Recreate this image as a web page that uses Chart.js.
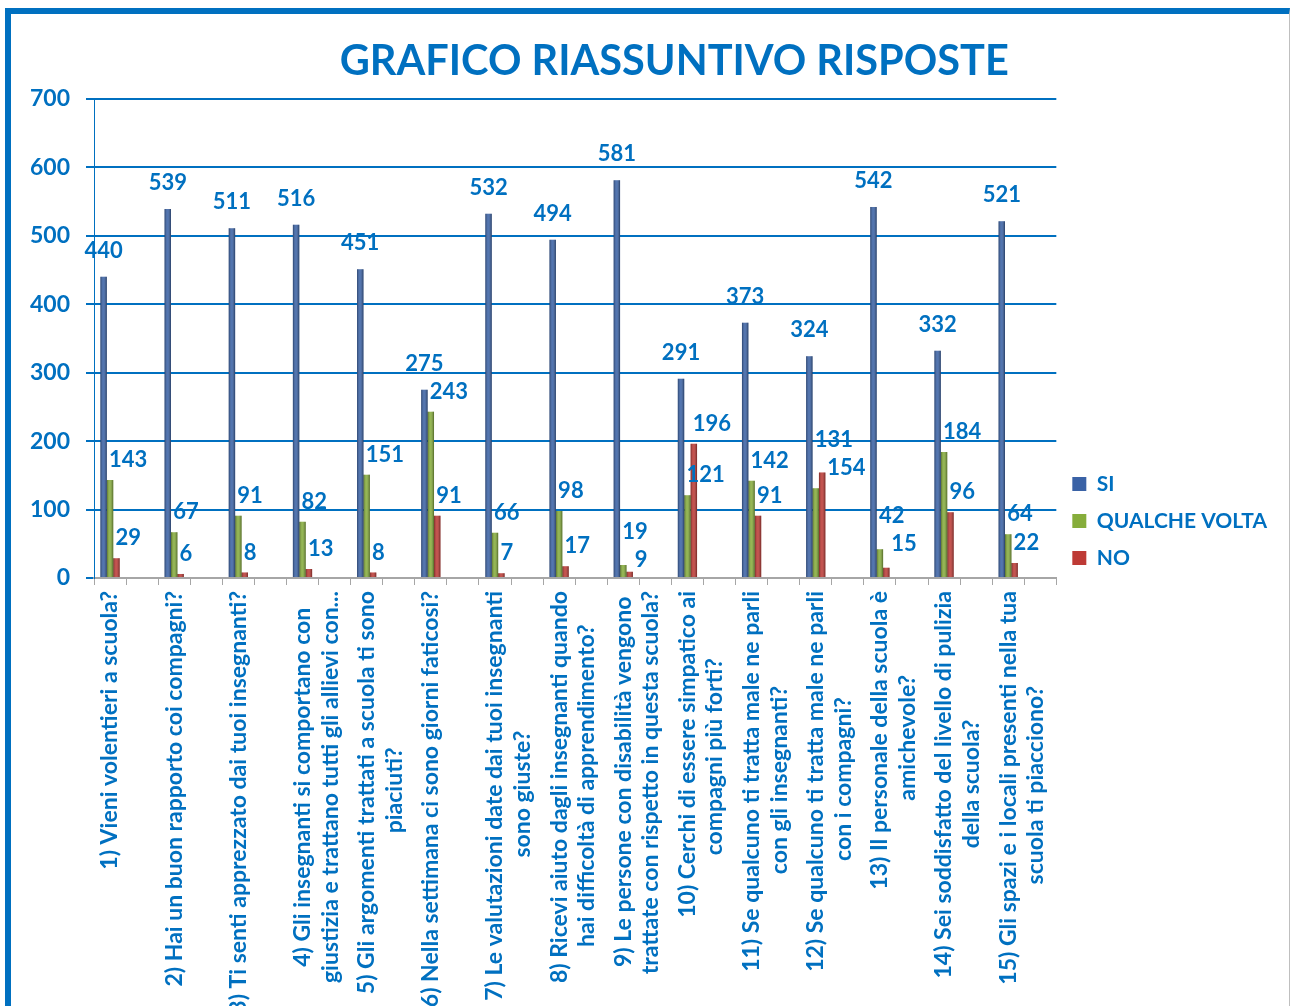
<!DOCTYPE html>
<html lang="it">
<head>
<meta charset="utf-8">
<title>Grafico riassuntivo risposte</title>
<script src="https://cdn.jsdelivr.net/npm/chart.js@4.4.1/dist/chart.umd.min.js"></script>
<style>
  html, body { margin: 0; padding: 0; background: #fff; overflow: hidden; }
  #frame {
    position: absolute;
    left: 5px;
    top: 8px;
    width: 1278px;
    height: 1024px;
    border-top: 6px solid #0070c0;
    border-left: 6px solid #0070c0;
    border-right: 1px solid #bfbfbf;
  }
  #box { position: relative; width: 1278px; height: 1014px; }
</style>
</head>
<body>
<div id="frame">
  <div id="box"><canvas id="chart"></canvas></div>
</div>
<script>
const QUESTIONS = [
  "1) Vieni volentieri a scuola?",
  "2) Hai un buon rapporto coi compagni?",
  "3) Ti senti apprezzato dai tuoi insegnanti?",
  ["4) Gli insegnanti si comportano con", "giustizia e trattano tutti gli allievi con..."],
  ["5) Gli argomenti trattati a scuola ti sono", "piaciuti?"],
  "6) Nella settimana ci sono giorni faticosi?",
  ["7) Le valutazioni date dai tuoi insegnanti", "sono giuste?"],
  ["8) Ricevi aiuto dagli insegnanti quando", "hai difficoltà di apprendimento?"],
  ["9) Le persone con disabilità vengono", "trattate con rispetto in questa scuola?"],
  ["10) Cerchi di essere simpatico ai", "compagni più forti?"],
  ["11) Se qualcuno ti tratta male ne parli", "con gli insegnanti?"],
  ["12) Se qualcuno ti tratta male ne parli", "con i compagni?"],
  ["13) Il personale della scuola è", "amichevole?"],
  ["14) Sei soddisfatto del livello di pulizia", "della scuola?"],
  ["15) Gli spazi e i locali presenti nella tua", "scuola ti piacciono?"]
];

const SI = [440, 539, 511, 516, 451, 275, 532, 494, 581, 291, 373, 324, 542, 332, 521];
const QUALCHE_VOLTA = [143, 67, 91, 82, 151, 243, 66, 98, 19, 121, 142, 131, 42, 184, 64];
const NO = [29, 6, 8, 13, 8, 91, 7, 17, 9, 196, 91, 154, 15, 96, 22];

const Y_TICKS = [0, 100, 200, 300, 400, 500, 600, 700];

const BLUE_TEXT = "#0070c0";
const FONT = "Lato, 'Open Sans', sans-serif";
const LABEL_SIZE = 23;
const VALUE_FONT = "bold 22px " + FONT;

// the sheet leaves an empty slot after every question
const spread = (arr, blank) => arr.flatMap((v) => [v, blank]);

// rotated tick lines are right aligned by Chart.js, pad the short ones so they look centred
const measureCtx = document.createElement("canvas").getContext("2d");
const centerLines = (label) => {
  if (!Array.isArray(label)) {
    return label;
  }
  measureCtx.font = "bold " + LABEL_SIZE + "px " + FONT;
  const space = measureCtx.measureText("\u00a0").width || 5;
  const widths = label.map((l) => measureCtx.measureText(l).width);
  const max = Math.max(...widths);
  return label.map((l, i) => l + "\u00a0".repeat(Math.round((max - widths[i]) / 2 / space)));
};

const shades = {
  si: "#3a62a6",
  qv: "#86ad3b",
  no: "#be3a35"
};

const barShade = {
  id: "barShade",
  afterDatasetsDraw(chart) {
    const { ctx } = chart;
    chart.data.datasets.forEach((ds, di) => {
      const meta = chart.getDatasetMeta(di);
      if (meta.hidden) return;
      meta.data.forEach((bar) => {
        if (!Number.isFinite(bar.x) || !Number.isFinite(bar.y)) return;
        const w = bar.width;
        const left = bar.x - w / 2;
        const g = ctx.createLinearGradient(left, 0, left + w, 0);
        g.addColorStop(0, "rgba(0,0,0,0.35)");
        g.addColorStop(0.45, "rgba(255,255,255,0.12)");
        g.addColorStop(1, "rgba(0,0,0,0.4)");
        ctx.save();
        ctx.fillStyle = g;
        ctx.fillRect(left, bar.y, w, bar.base - bar.y);
        ctx.restore();
      });
    });
  }
};

const overlaps = (a, b) =>
  a.x < b.x + b.w && b.x < a.x + a.w && a.y < b.y + b.h && b.y < a.y + a.h;

const valueLabels = {
  id: "valueLabels",
  afterDatasetsDraw(chart) {
    const { ctx } = chart;
    ctx.save();
    ctx.font = VALUE_FONT;
    ctx.fillStyle = BLUE_TEXT;
    ctx.textBaseline = "middle";
    const count = chart.data.labels.length;
    for (let i = 0; i < count; i++) {
      const items = [];
      chart.data.datasets.forEach((ds, di) => {
        const meta = chart.getDatasetMeta(di);
        const v = ds.data[i];
        const bar = meta.data[i];
        if (meta.hidden || v === null || v === undefined || !bar) return;
        const text = String(v);
        const w = ctx.measureText(text).width;
        const x = bar.x + ds.labelDx;
        const y = bar.y + ds.labelDy;
        const left = ds.labelAlign === "center" ? x - w / 2 : x;
        items.push({ di, text, align: ds.labelAlign, x, y, box: { x: left, y: y - 11, w, h: 22 } });
      });
      // green and red labels that collide: stack green above red
      const qv = items.find((it) => it.di === 1);
      const no = items.find((it) => it.di === 2);
      if (qv && no && overlaps(qv.box, no.box)) {
        const top = Math.min(qv.y, no.y) - 13;
        qv.y = top;
        no.y = top + 28;
        no.x += 6;
      }
      items.forEach((it) => {
        ctx.textAlign = it.align;
        ctx.fillText(it.text, it.x, it.y);
      });
    }
    ctx.restore();
  }
};

const makeDataset = (label, values, color, align, dx, dy) => ({
  label,
  data: spread(values, null),
  backgroundColor: color,
  borderWidth: 0,
  categoryPercentage: 0.6,
  barPercentage: 1,
  labelAlign: align,
  labelDx: dx,
  labelDy: dy
});

const chart = new Chart(document.getElementById("chart"), {
  type: "bar",
  data: {
    labels: spread(QUESTIONS.map(centerLines), ""),
    datasets: [
      makeDataset("SI", SI, shades.si, "center", 0, -26),
      makeDataset("QUALCHE VOLTA", QUALCHE_VOLTA, shades.qv, "left", -1, -20),
      makeDataset("NO", NO, shades.no, "left", -1, -20)
    ]
  },
  options: {
    responsive: true,
    maintainAspectRatio: false,
    animation: false,
    layout: { padding: { left: 0, right: 12, top: 0, bottom: 0 } },
    scales: {
      x: {
        offset: true,
        grid: {
          display: true,
          drawOnChartArea: false,
          offset: true,
          color: "#a6a6a6",
          tickLength: 7,
          lineWidth: 1
        },
        border: { display: true, color: "#a6a6a6", width: 2 },
        ticks: {
          autoSkip: false,
          minRotation: 90,
          maxRotation: 90,
          padding: 6,
          color: BLUE_TEXT,
          font: { family: FONT, size: LABEL_SIZE, weight: "bold", lineHeight: 1.2 }
        },
        afterFit: (scale) => {
          scale.height = 450;
        }
      },
      y: {
        min: 0,
        max: 700,
        afterBuildTicks: (scale) => {
          scale.ticks = Y_TICKS.map((value) => ({ value }));
        },
        grid: {
          color: BLUE_TEXT,
          lineWidth: 2,
          tickLength: 8,
          tickColor: BLUE_TEXT
        },
        border: { display: true, color: BLUE_TEXT, width: 1 },
        ticks: {
          padding: 16,
          color: BLUE_TEXT,
          font: { family: FONT, size: 23, weight: "bold" }
        },
        afterFit: (scale) => {
          scale.width = 83;
        }
      }
    },
    plugins: {
      title: {
        display: true,
        text: "\u00a0".repeat(6) + "GRAFICO RIASSUNTIVO RISPOSTE",
        color: BLUE_TEXT,
        font: { family: FONT, size: 41.5, weight: "bold", lineHeight: 1.2 },
        padding: { top: 23, bottom: 12 }
      },
      legend: {
        position: "right",
        labels: {
          boxWidth: 14,
          boxHeight: 14,
          padding: 16,
          color: BLUE_TEXT,
          font: { family: FONT, size: 21, weight: "bold" }
        }
      },
      tooltip: { enabled: false }
    }
  },
  plugins: [barShade, valueLabels]
});
</script>
</body>
</html>
